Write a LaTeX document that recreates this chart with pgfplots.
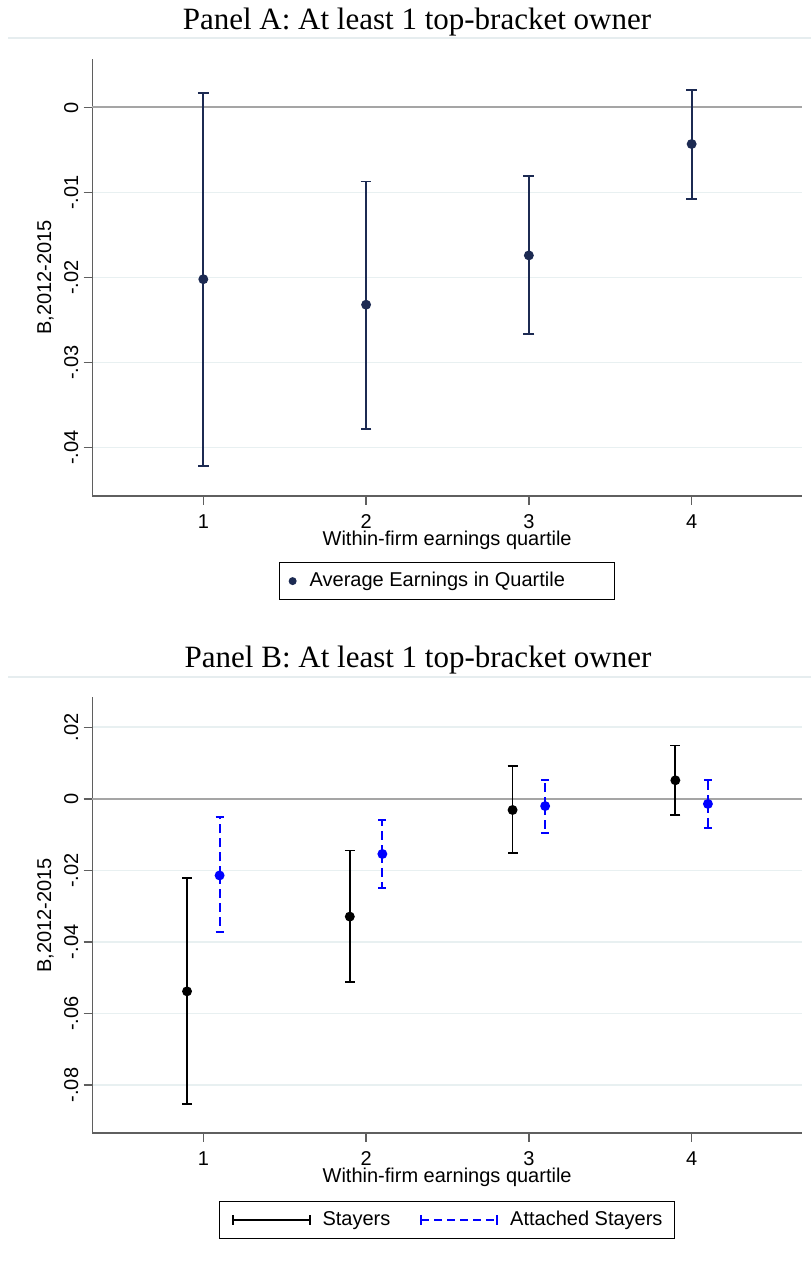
\documentclass[border=0pt]{standalone}
\usepackage{fontspec}
\setmainfont{Liberation Serif}
\setsansfont{Liberation Sans}
\usepackage{pgfplots}
\usepackage{pgfplotstable}
\pgfplotsset{compat=1.18}

\definecolor{navyA}{RGB}{28,42,82}
\definecolor{gridc}{RGB}{232,240,241}
\definecolor{zeroc}{RGB}{165,165,165}
\definecolor{spinec}{RGB}{95,95,95}
\definecolor{sepc}{RGB}{230,237,239}

% Panel A: point estimate, lower and upper end of the interval
\pgfplotstableread{
x y lo hi
1 -0.0202 -0.0422 0.0017
2 -0.0232 -0.0378 -0.0087
3 -0.0174 -0.0266 -0.0081
4 -0.0043 -0.0108 0.0021
}\panelA

% Panel B
\pgfplotstableread{
x y lo hi
0.9 -0.0538 -0.0853 -0.0222
1.9 -0.0329 -0.0512 -0.0144
2.9 -0.0031 -0.0151 0.0093
3.9 0.0052 -0.0044 0.0149
}\stayers
\pgfplotstableread{
x y lo hi
1.1 -0.0214 -0.0373 -0.0052
2.1 -0.0154 -0.0248 -0.0059
3.1 -0.0020 -0.0096 0.0053
4.1 -0.0014 -0.0082 0.0053
}\attached

\newcommand{\sfont}{\sffamily\fontsize{10bp}{12bp}\selectfont}

% dashed blue bar with a solid cap
\newcommand{\attachedbar}[2]{%
  \draw[blue, line width=1bp, dash pattern=on 4.5bp off 2.5bp] #1 -- #2;
  \draw[blue, line width=1bp, solid] #2 ++(-2bp,0pt) -- ++(4bp,0pt);}

\pgfplotsset{
  dashedbars/.style={/pgfplots/error bars/draw error bar/.code 2 args={\attachedbar{##1}{##2}}},
  stata/.style={
    scale only axis, width=354.85bp,
    axis x line*=bottom, axis y line*=left,
    axis line style={spinec, line width=0.8bp},
    every tick/.style={spinec, line width=0.7bp},
    tick align=outside, major tick length=4.3bp,
    xmin=0.318, xmax=4.678, xtick={1,2,3,4},
    scaled y ticks=false,
    ymajorgrids, grid style={gridc, line width=0.9bp},
    extra y ticks={0},
    extra y tick style={grid style={zeroc, line width=1bp}},
    tick label style={font=\sfont},
    xticklabel={\pgfmathprintnumber[assume math mode=true]{\tick}},
    yticklabel={\pgfmathprintnumber[fixed,precision=2,skip 0.,assume math mode=true]{\tick}},
    xticklabel style={anchor=base, inner sep=0pt, yshift=-11.9bp},
    yticklabel style={xshift=-2.5bp, rotate=90, anchor=south, inner sep=0pt},
    xlabel={Within-firm earnings quartile},
    ylabel={B,2012-2015},
    every axis x label/.style={at={(axis description cs:0.5,0)}, anchor=base, inner sep=0pt, yshift=-24.5bp, font=\sfont},
    every axis y label/.style={at={(axis description cs:0,0.5)}, xshift=-23.4bp, rotate=90, anchor=center, inner sep=0pt, font=\sfont},
    legend style={at={(axis description cs:0.5,0)}, anchor=north,
      draw=black, line width=0.6bp, font=\sfont,
      nodes={inner sep=0pt, text height=7.5bp, text depth=2bp},
      inner ysep=4.5bp},
    clip=false,
  }
}

\begin{document}
\begin{tikzpicture}
\useasboundingbox (0,0) rectangle (405.5bp,-631bp);

% titles and the thin rules under them
\node[anchor=base, font=\rmfamily\fontsize{15.5bp}{18bp}\selectfont] at (208.5bp,-14.5bp) {Panel A: At least 1 top-bracket owner};
\draw[sepc, line width=0.6bp] (4bp,-19bp) -- (405.5bp,-19bp);
\node[anchor=base, font=\rmfamily\fontsize{15.5bp}{18bp}\selectfont] at (209bp,-333.5bp) {Panel B: At least 1 top-bracket owner};
\draw[sepc, line width=0.6bp] (4bp,-338.5bp) -- (405.5bp,-338.5bp);

% Panel A
\begin{axis}[stata,
  at={(46.15bp,-248bp)}, anchor=south west, height=218.5bp,
  ymin=-0.0457, ymax=0.0057,
  ytick={-0.04,-0.03,-0.02,-0.01},
  legend style={yshift=-33bp, inner xsep=4bp},
]
\addplot[navyA, line width=0.9bp, only marks, mark=*, mark size=2bp,
  legend image code/.code={\path[draw=none] (0bp,0bp) -- (11bp,0bp); \fill[navyA, draw=none] (2.5bp,0bp) circle (2bp);},
  error bars/.cd, y dir=both, y explicit, error mark=-,
  error bar style={navyA, line width=0.9bp},
  error mark options={navyA, line width=0.9bp, mark size=2.7bp, rotate=90}]
  table[x=x, y=y, y error plus expr=\thisrow{hi}-\thisrow{y}, y error minus expr=\thisrow{y}-\thisrow{lo}] {\panelA};
\addlegendentry{\makebox[148.5bp][l]{Average Earnings in Quartile}}
\end{axis}

% Panel B
\begin{axis}[stata,
  at={(46.15bp,-566.5bp)}, anchor=south west, height=217.85bp,
  ymin=-0.0934, ymax=0.0284,
  ytick={-0.08,-0.06,-0.04,-0.02,0.02},
  legend columns=2,
  legend style={yshift=-34bp, inner xsep=6bp,
    /tikz/every odd column/.append style={column sep=6bp},
    /tikz/every even column/.append style={column sep=15bp}},
]
\addplot[black, line width=0.9bp, only marks, mark=*, mark size=2bp,
  legend image code/.code={\draw[black, line width=0.9bp, solid] (0bp,0bp) -- (38.5bp,0bp);
    \draw[black, line width=0.9bp, solid] (0bp,-2.4bp) -- (0bp,2.4bp);
    \draw[black, line width=0.9bp, solid] (38.5bp,-2.4bp) -- (38.5bp,2.4bp);},
  error bars/.cd, y dir=both, y explicit, error mark=-,
  error bar style={black, line width=0.9bp},
  error mark options={black, line width=0.9bp, mark size=2.5bp, rotate=90}]
  table[x=x, y=y, y error plus expr=\thisrow{hi}-\thisrow{y}, y error minus expr=\thisrow{y}-\thisrow{lo}] {\stayers};
\addlegendentry{Stayers}
\addplot[blue, line width=0.9bp, only marks, mark=*, mark size=2bp, mark options={solid, fill=blue},
  legend image code/.code={\draw[blue, line width=0.9bp, dash pattern=on 4bp off 2.5bp] (0bp,0bp) -- (38bp,0bp);
    \draw[blue, line width=0.9bp, solid] (0bp,-2.4bp) -- (0bp,2.4bp);
    \draw[blue, line width=0.9bp, solid] (38bp,-2.4bp) -- (38bp,2.4bp);},
  dashedbars,
  error bars/.cd, y dir=both, y explicit]
  table[x=x, y=y, y error plus expr=\thisrow{hi}-\thisrow{y}, y error minus expr=\thisrow{y}-\thisrow{lo}] {\attached};
\addlegendentry{Attached Stayers}
\end{axis}
\end{tikzpicture}
\end{document}
